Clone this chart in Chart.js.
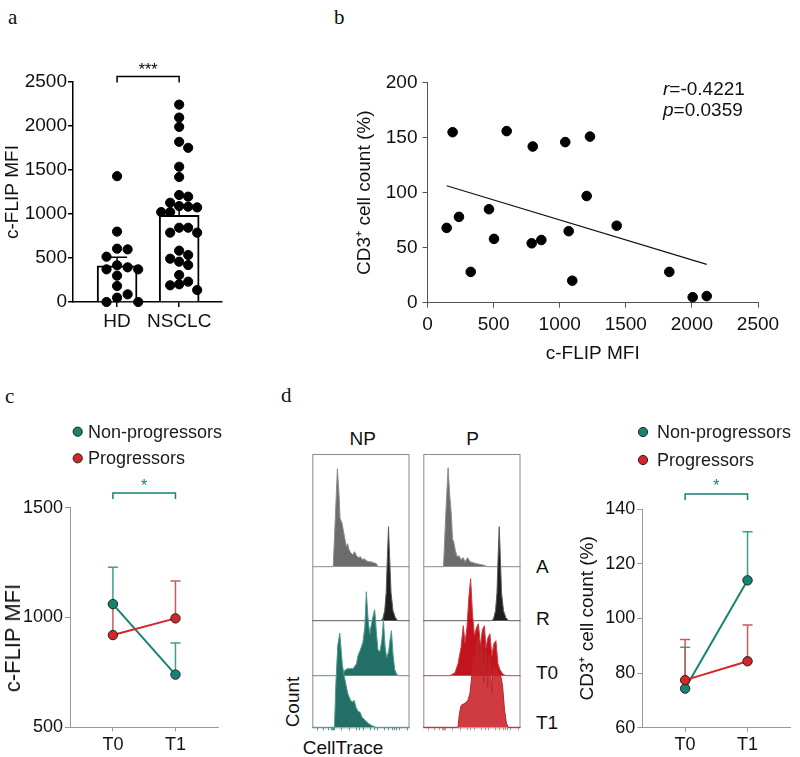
<!DOCTYPE html>
<html>
<head>
<meta charset="utf-8">
<script src="https://cdn.jsdelivr.net/npm/chart.js@4.4.1/dist/chart.umd.min.js"></script>
<style>
  body { margin: 0; background: #fff; width: 800px; height: 757px; position: relative; overflow: hidden;
         font-family: "Liberation Sans", Arial, sans-serif; }
  canvas { position: absolute; }
  .t { position: absolute; white-space: nowrap; color: #111; line-height: 1; }
</style>
</head>
<body>
<script>
// ---------- data ----------
// a: c-FLIP MFI per donor
const groupLabels = ['HD', 'NSCLC'];
const hdValues = [1430, 800, 606, 598, 515, 417, 394, 371, 371, 299, 182, 87, 49, 0, 0];
const nsclcValues = [2243, 2096, 1990, 1820, 1752, 1537, 1420, 1216, 1197, 1128, 1090, 1083, 1075, 1022, 1022,
                     844, 844, 788, 788, 583, 534, 492, 458, 420, 307, 231, 201, 190, 136];
const groupMeans = [410, 985];
const groupSem = [98, 115];

// b: correlation
const flipMfi = [145, 190, 238, 327, 465, 503, 599, 788, 796, 861, 1042, 1068, 1095, 1204, 1229, 1431, 1829, 2006, 2112];
const cd3Count = [68, 155, 78, 28, 85, 58, 156, 54, 142, 57, 146, 65, 20, 97, 151, 70, 28, 5, 6];
const statR = '-0.4221';
const statP = '0.0359';

// c and d: time course
const timeLabels = ['T0', 'T1'];
const flipNP = [1061, 740];
const flipNPerr = [168, 144];
const flipP = [920, 996];
const flipPerr = [145, 170];
const cd3NP = [74.3, 113.9];
const cd3NPerr = [15.1, 17.8];
const cd3P = [77.4, 84.3];
const cd3Perr = [14.9, 13.3];

// d: CellTrace histograms, [channel, count]
const npA = [[0,0],[21.5,0],[23.5,45],[25.8,98],[27.5,72],[28.6,48],[30.5,44],[32,36],[33.5,28],[35,20],[36.3,23],[37.8,17],
  [39.5,14],[41.5,12],[43.5,15],[45.5,11],[47.5,9],[49.5,10],[51.5,7],[53.5,8],[55.5,6],[57.5,5],[60,5],[63,4],[66,3],[67.5,0],[100,0]];
const npR = [[0,0],[70.5,0],[72.5,2],[74.5,10],[76,28],[77.3,65],[78.4,94],[79.5,65],[81,28],[83,10],[85.5,3],[88,0],[100,0]];
const npT0 = [[0,0],[31.5,0],[33,5],[36,7],[42,7],[45.5,12],[47,20],[49.5,26],[52,33],[54,48],[55.6,84],[57.3,58],[59,42],[61,52],
  [62.6,60],[64.2,66],[65.8,45],[67.5,26],[69.5,24],[71.5,35],[73.2,56],[74.8,30],[76.5,18],[78.5,24],[80,36],[81.4,45],[83,22],
  [84.8,6],[87,1],[89,0],[100,0]];
const npT1 = [[0,0],[22.8,0],[24.3,45],[26.2,82],[28.3,94],[29.8,76],[31,62],[32.7,52],[34.7,42],[36.8,33],[38.9,28],[40.9,25],
  [43,27],[45,20],[47.1,16],[49.2,15],[51.2,10],[54.3,7],[57.4,4],[61.5,1.5],[65.7,0],[100,0]];
const pA = [[0,0],[20.8,0],[23,50],[25.5,99],[27.3,70],[29,50],[30,28],[31.5,24],[33,16],[34.8,10],[36.7,11],[38.7,7],[41,9],
  [43,5],[45.6,9],[48,5],[51.4,4],[54.9,3],[60,2],[64,1],[65.5,0],[100,0]];
const pR = [[0,0],[70.3,0],[72.3,2],[74.3,10],[75.8,28],[77,65],[78.1,94],[79.2,65],[80.5,28],[82.5,10],[85,3],[88,0],[100,0]];
const pT0 = [[0,0],[27.4,0],[32.6,3],[35.7,12],[38.8,28],[41.1,50],[42.9,33],[44.9,48],[47,80],[48.7,97],[50.6,62],[52.6,40],
  [54.7,48],[56.7,52],[58.8,30],[60.8,46],[62.9,50],[64.4,28],[66.5,38],[68.5,42],[70.6,20],[72.6,32],[74.7,35],[76.8,12],
  [78.8,6],[81.9,1.5],[85,0],[100,0]];
const pT1 = [[0,0],[35.7,0],[37.2,14],[39,22],[42.9,24],[45.9,27],[48,34],[50,52],[51.8,72],[53.2,66],[55,86],[56.6,90],[58,58],
  [59.5,84],[61,80],[62.3,45],[63.6,78],[65,70],[66.3,40],[67.7,72],[69,66],[70.5,35],[72,64],[73.7,58],[75.5,60],[77.5,55],
  [79.5,52],[81.5,42],[83.5,18],[85.5,4],[87.5,0],[100,0]];
const histTicks = [5, 12, 17, 20, 21, 22, 23, 30, 38, 45, 49, 52.6, 60, 64, 67, 74, 78.4, 82, 84.5, 87, 89.4, 98];

// ---------- helpers ----------
const FONT = '"Liberation Sans", Arial, sans-serif';
Chart.defaults.font.family = FONT;
Chart.defaults.color = '#111';
Chart.defaults.animation = false;
Chart.defaults.responsive = false;
Chart.defaults.plugins.legend.display = false;
Chart.defaults.plugins.tooltip.enabled = false;

const TEAL = '#15836f', TEAL_ERR = '#3f9e8e', RED = '#d3262b', RED_ERR = '#c65a62';
const plain = v => String(v);

function makeCanvas(x, y, w, h) {
    const c = document.createElement('canvas');
    c.width = w; c.height = h;
    c.style.left = x + 'px'; c.style.top = y + 'px';
    c.style.width = w + 'px'; c.style.height = h + 'px';
    document.body.appendChild(c);
    return c;
}

function addText(html, x, y, o = {}) {
    const d = document.createElement('div');
    d.className = 't';
    d.innerHTML = html;
    d.style.left = x + 'px';
    d.style.top = y + 'px';
    d.style.fontSize = (o.size || 19) + 'px';
    if (o.serif) d.style.fontFamily = '"Liberation Serif", "Times New Roman", serif';
    const tx = o.align === 'center' ? '-50%' : '0';
    d.style.transform = 'translate(' + tx + ',-50%)' + (o.rotate ? ' rotate(' + o.rotate + 'deg)' : '');
    document.body.appendChild(d);
}

// spread close values sideways so dots don't overlap
function swarm(values, center, step, yTol) {
    const placed = [];
    return values.map(v => {
        for (let k = 0; k < 20; k++) {
            const x = center + (k % 2 ? 1 : -1) * Math.ceil(k / 2) * step;
            if (!placed.some(p => Math.abs(p.x - x) < step / 2 && Math.abs(p.y - v) < yTol)) {
                placed.push({ x: x, y: v });
                return { x: x, y: v };
            }
        }
        return { x: center, y: v };
    });
}

function bracketPlugin(v0, v1, color, text, top, leg, starY) {
    return {
        id: 'bracket',
        afterDraw(chart) {
            const { ctx, chartArea, scales: { x } } = chart;
            const x0 = x.getPixelForValue(v0), x1 = x.getPixelForValue(v1);
            const yt = chartArea.top + top;
            ctx.save();
            ctx.strokeStyle = color; ctx.lineWidth = 1.5;
            ctx.beginPath();
            ctx.moveTo(x0, yt + leg); ctx.lineTo(x0, yt); ctx.lineTo(x1, yt); ctx.lineTo(x1, yt + leg);
            ctx.stroke();
            ctx.fillStyle = color;
            ctx.font = '16px ' + FONT;
            ctx.textAlign = 'center'; ctx.textBaseline = 'middle';
            ctx.fillText(text, (x0 + x1) / 2, chartArea.top + starY);
            ctx.restore();
        }
    };
}

// ---------- panel a ----------
addText('a', 8, 17, { serif: true, size: 21 });
const canvasA = makeCanvas(0, 0, 250, 340);
const barPlugin = {
    id: 'semBars',
    afterDatasetsDraw(chart) {
        const { ctx, scales: { x, y } } = chart;
        ctx.save();
        ctx.strokeStyle = '#000'; ctx.lineWidth = 1.5;
        groupMeans.forEach((m, i) => {
            const px = x.getPixelForValue(i + 1), y0 = y.getPixelForValue(m), y1 = y.getPixelForValue(m + groupSem[i]);
            ctx.beginPath();
            ctx.moveTo(px, y0); ctx.lineTo(px, y1);
            ctx.moveTo(px - 10, y1); ctx.lineTo(px + 10, y1);
            ctx.stroke();
        });
        ctx.restore();
    }
};
new Chart(canvasA, {
    type: 'bar',
    data: {
        datasets: [
            {
                type: 'scatter',
                data: swarm(hdValues, 1, 0.17, 105).concat(swarm(nsclcValues, 2, 0.145, 105)),
                backgroundColor: '#000', borderColor: '#000', pointRadius: 4.6, order: 0, clip: false
            },
            {
                type: 'bar',
                data: groupMeans.map((m, i) => ({ x: i + 1, y: m })),
                backgroundColor: '#fff', borderColor: '#000', borderWidth: 2, barThickness: 40, order: 1
            }
        ]
    },
    options: {
        layout: { padding: { top: 82, right: 28, left: 0, bottom: 0 } },
        scales: {
            x: {
                type: 'linear', min: 0.29, max: 2.69, offset: false,
                afterBuildTicks: s => { s.ticks = groupLabels.map((l, i) => ({ value: i + 1 })); },
                afterFit: s => { s.height = 38; },
                ticks: { callback: v => groupLabels[v - 1], font: { size: 19 }, color: '#111', padding: 3, maxRotation: 0 },
                grid: { drawOnChartArea: false, offset: false, tickLength: 5, color: '#000', lineWidth: 1.5 },
                border: { color: '#000', width: 1.5 }
            },
            y: {
                min: 0, max: 2500,
                afterFit: s => { s.width = 73; },
                ticks: { stepSize: 500, callback: plain, font: { size: 19 }, color: '#111', padding: 1 },
                grid: { drawOnChartArea: false, tickLength: 5, color: '#000', lineWidth: 1.5 },
                border: { color: '#000', width: 1.5 },
                title: { display: true, text: 'c-FLIP MFI', font: { size: 19 }, color: '#111', padding: { top: 1, bottom: 0 } }
            }
        }
    },
    plugins: [barPlugin, bracketPlugin(1, 2, '#000', '***', -5.5, 6, -11)]
});

// ---------- panel b ----------
addText('b', 334, 17, { serif: true, size: 21 });
const canvasB = makeCanvas(330, 0, 470, 372);
const meanOf = a => a.reduce((s, v) => s + v, 0) / a.length;
const mx = meanOf(flipMfi), my = meanOf(cd3Count);
let sxy = 0, sxx = 0;
flipMfi.forEach((x, i) => { sxy += (x - mx) * (cd3Count[i] - my); sxx += (x - mx) * (x - mx); });
const slope = sxy / sxx, intercept = my - slope * mx;
const fitLine = [Math.min(...flipMfi), Math.max(...flipMfi)].map(x => ({ x: x, y: intercept + slope * x }));

new Chart(canvasB, {
    type: 'scatter',
    data: {
        datasets: [
            { data: flipMfi.map((x, i) => ({ x: x, y: cd3Count[i] })), backgroundColor: '#000', borderColor: '#000', pointRadius: 4.8, clip: false },
            { type: 'line', data: fitLine, borderColor: '#111', borderWidth: 1.2, pointRadius: 0, fill: false }
        ]
    },
    options: {
        layout: { padding: { top: 82.7, right: 42, left: 0, bottom: 0 } },
        scales: {
            x: {
                type: 'linear', min: 0, max: 2500,
                afterFit: s => { s.height = 69.3; },
                ticks: { stepSize: 500, callback: plain, font: { size: 19 }, color: '#111', padding: 6 },
                grid: { drawOnChartArea: false, tickLength: 5, color: '#555' },
                border: { color: '#555', width: 1 },
                title: { display: true, text: 'c-FLIP MFI', font: { size: 19 }, color: '#111', padding: { top: 0, bottom: 7 } }
            },
            y: {
                min: 0, max: 200,
                afterFit: s => { s.width = 97.5; },
                ticks: { stepSize: 50, callback: plain, font: { size: 19 }, color: '#111', padding: 5 },
                grid: { drawOnChartArea: false, tickLength: 5, color: '#555' },
                border: { color: '#555', width: 1 },
                title: { display: true, text: 'CD3\u207A cell count (%)', font: { size: 19 }, color: '#111', padding: { top: 23, bottom: 0 } }
            }
        }
    }
});
addText('<i>r</i>=' + statR, 663, 88);
addText('<i>p</i>=' + statP, 663, 109);

// ---------- panels c and d (right) ----------
const errorBars = {
    id: 'errorBars',
    beforeDatasetsDraw(chart) {
        const { ctx, scales: { x, y } } = chart;
        chart.data.datasets.forEach(ds => {
            ctx.save();
            ctx.strokeStyle = ds.errorColor; ctx.lineWidth = 1.5;
            ds.data.forEach((p, i) => {
                const px = x.getPixelForValue(p.x), y0 = y.getPixelForValue(p.y), y1 = y.getPixelForValue(p.y + ds.errors[i]);
                ctx.beginPath();
                ctx.moveTo(px, y0); ctx.lineTo(px, y1);
                ctx.moveTo(px - 5, y1); ctx.lineTo(px + 5, y1);
                ctx.stroke();
            });
            ctx.restore();
        });
    }
};

function legendPlugin(dx, textDx, y1, y2) {
    return {
        id: 'dotLegend',
        afterDraw(chart) {
            const { ctx, chartArea } = chart;
            ctx.save();
            chart.data.datasets.forEach((ds, i) => {
                const cy = chartArea.top + (i === 0 ? y1 : y2);
                ctx.beginPath();
                ctx.arc(chartArea.left + dx, cy, 4.6, 0, Math.PI * 2);
                ctx.fillStyle = ds.backgroundColor; ctx.fill();
                ctx.strokeStyle = '#222'; ctx.lineWidth = 1; ctx.stroke();
                ctx.fillStyle = '#1a1a1a';
                ctx.font = '18px ' + FONT;
                ctx.textAlign = 'left'; ctx.textBaseline = 'middle';
                ctx.fillText(ds.label, chartArea.left + textDx, cy + 1);
            });
            ctx.restore();
        }
    };
}

function timeChart(canvas, c) {
    const pts = v => v.map((y, i) => ({ x: i, y: y }));
    const common = { pointRadius: 4.7, pointBorderColor: '#222', pointBorderWidth: 1, borderWidth: 2, clip: false, tension: 0 };
    return new Chart(canvas, {
        type: 'line',
        data: {
            datasets: [
                Object.assign({ label: 'Non-progressors', data: pts(c.np), errors: c.npErr, errorColor: TEAL_ERR,
                    borderColor: TEAL, backgroundColor: TEAL, pointBackgroundColor: TEAL, order: 2 }, common),
                Object.assign({ label: 'Progressors', data: pts(c.p), errors: c.pErr, errorColor: RED_ERR,
                    borderColor: RED, backgroundColor: RED, pointBackgroundColor: RED, order: 1 }, common)
            ]
        },
        options: {
            layout: { padding: { top: c.top, right: c.right, left: 0, bottom: 0 } },
            scales: {
                x: {
                    type: 'linear', min: -0.686, max: 1.68,
                    afterBuildTicks: s => { s.ticks = timeLabels.map((l, i) => ({ value: i })); },
                    afterFit: s => { s.height = c.xh; },
                    ticks: { callback: v => timeLabels[v], font: { size: 18 }, color: '#111', padding: 3 },
                    grid: { drawOnChartArea: false, tickLength: 4, color: '#999' },
                    border: { color: '#999', width: 1 }
                },
                y: {
                    min: c.yMin, max: c.yMax,
                    afterFit: s => { s.width = c.yw; },
                    ticks: { stepSize: c.yStep, callback: plain, font: { size: 18 }, color: '#111', padding: 2 },
                    grid: { drawOnChartArea: false, tickLength: 5, color: '#999' },
                    border: { color: '#999', width: 1 },
                    title: { display: c.titlePad !== null, text: c.yTitle, font: { size: 19 }, color: '#111', padding: { top: c.titlePad || 0, bottom: 0 } }
                }
            }
        },
        plugins: [errorBars, legendPlugin(c.legDx, c.legTextDx, c.leg1, c.leg2), bracketPlugin(0, 1, TEAL, '*', c.brTop, 6, c.starY)]
    });
}

addText('c', 5, 396, { serif: true, size: 21 });
timeChart(makeCanvas(0, 380, 250, 377), {
    np: flipNP, npErr: flipNPerr, p: flipP, pErr: flipPerr,
    yMin: 500, yMax: 1500, yStep: 500, yTitle: 'c-FLIP MFI',
    top: 127.7, right: 32, xh: 29.7, yw: 70, titlePad: null,
    legDx: 7.7, legTextDx: 18, leg1: -76, leg2: -49.4, brTop: -14.7, starY: -21
});
addText('c-FLIP MFI', 13, 638, { align: 'center', rotate: -90, size: 22 });

timeChart(makeCanvas(560, 380, 240, 377), {
    np: cd3NP, npErr: cd3NPerr, p: cd3P, pErr: cd3Perr,
    yMin: 60, yMax: 140, yStep: 20, yTitle: 'CD3\u207A cell count (%)',
    top: 129, right: 10, xh: 29.3, yw: 82.3, titlePad: 16,
    legDx: 0.7, legTextDx: 14.7, leg1: -77, leg2: -49, brTop: -15, starY: -22
});

// ---------- panel d histograms ----------
addText('d', 281, 395, { serif: true, size: 21 });
const boxPlugin = {
    id: 'box',
    beforeDatasetsDraw(chart) {
        const { ctx, chartArea: a } = chart;
        ctx.save();
        ctx.strokeStyle = '#8a8a8a'; ctx.lineWidth = 1;
        ctx.strokeRect(a.left + 0.5, a.top + 0.5, a.right - a.left - 1, a.bottom - a.top);
        ctx.restore();
    }
};

function histChart(canvas, rows, tickColor) {
    // rows stacked from the top, each row's baseline height in px above the panel bottom
    const rowBase = [160.6, 106.6, 51.6, 0];
    return new Chart(canvas, {
        type: 'line',
        data: {
            datasets: rows.map((r, i) => ({
                data: r.data.map(p => ({ x: p[0], y: rowBase[i] + p[1] })),
                fill: { value: rowBase[i] },
                backgroundColor: r.fill, borderColor: r.line, borderWidth: 1,
                pointRadius: 0, tension: 0, clip: false, order: 4 - i
            }))
        },
        options: {
            layout: { padding: { top: 1, right: 1.5, left: 1.3, bottom: 1.7 } },
            scales: {
                x: {
                    type: 'linear', min: 0, max: 100,
                    afterBuildTicks: s => { s.ticks = histTicks.map(v => ({ value: v })); },
                    afterFit: s => { s.height = 4; },
                    ticks: { display: false },
                    grid: { drawOnChartArea: false, tickLength: 3, color: tickColor },
                    border: { display: false }
                },
                y: { display: false, min: 0, max: 273.3 }
            }
        },
        plugins: [boxPlugin]
    });
}

histChart(makeCanvas(311, 453, 100, 280), [
    { data: npA, fill: '#6c6c6c', line: '#8c8c8c' },
    { data: npR, fill: '#1e1e1e', line: '#5a5a5a' },
    { data: npT0, fill: '#236e66', line: '#4a9a92' },
    { data: npT1, fill: '#236e66', line: '#4a9a92' }
], '#4a9a92');

histChart(makeCanvas(422, 453, 100, 280), [
    { data: pA, fill: '#6c6c6c', line: '#8c8c8c' },
    { data: pR, fill: '#1e1e1e', line: '#5a5a5a' },
    { data: pT0, fill: 'rgba(190,0,8,0.92)', line: '#cf3a42' },
    { data: pT1, fill: 'rgba(200,32,38,0.88)', line: '#b8242a' }
], '#e08a90');

addText('NP', 362.7, 438, { align: 'center' });
addText('P', 472.7, 438, { align: 'center' });
addText('A', 536, 566);
addText('R', 536, 618);
addText('T0', 536, 672);
addText('T1', 536, 722);
addText('Count', 291.7, 702, { align: 'center', rotate: -90 });
addText('CellTrace', 302.7, 746.5);
</script>
</body>
</html>
